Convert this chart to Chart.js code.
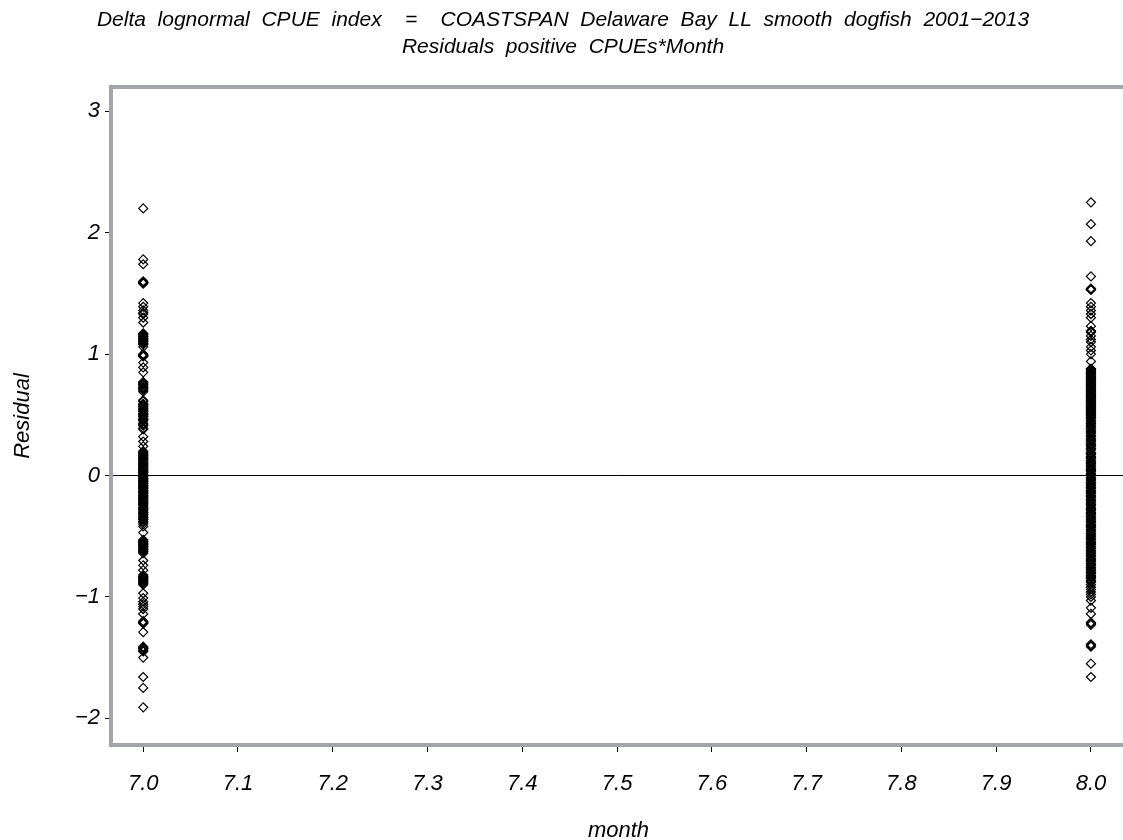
<!DOCTYPE html>
<html>
<head>
<meta charset="utf-8">
<script src="https://cdn.jsdelivr.net/npm/chart.js@4/dist/chart.umd.min.js"></script>
<style>
  html, body { margin: 0; padding: 0; background: #fff; overflow: hidden; }
  canvas { display: block; }
</style>
</head>
<body>
<canvas id="chart" width="1140" height="840"></canvas>
<script>
// months on the x axis
const months = [7, 8];

// residuals, one list per month
const month7Residuals = [
  2.20,
  1.78, 1.74,
  1.59, 1.59, 1.60, 1.58, 1.59,
  1.42, 1.39, 1.36, 1.34, 1.33, 1.30, 1.26,
  1.17, 1.16, 1.15, 1.14, 1.13, 1.12, 1.11, 1.10, 1.09, 1.08, 1.06,
  1.165, 1.145, 1.125, 1.105, 1.085,
  1.00, 0.99, 0.99, 0.98, 0.995, 0.985,
  0.93, 0.89, 0.85,
  0.77, 0.76, 0.75, 0.73, 0.72, 0.71, 0.69, 0.765, 0.745, 0.725, 0.705,
  0.62, 0.61, 0.59, 0.58, 0.57, 0.55, 0.54, 0.53, 0.51, 0.50, 0.49, 0.47, 0.46, 0.45,
  0.43, 0.42, 0.41, 0.39, 0.38,
  0.585, 0.565, 0.545, 0.525, 0.505, 0.485, 0.465,
  0.32, 0.28, 0.24,
  0.20, 0.19, 0.18, 0.17, 0.16, 0.15, 0.14, 0.13, 0.12, 0.11, 0.10, 0.09, 0.08, 0.07,
  0.06, 0.05, 0.04, 0.03, 0.02, 0.01,
  0.165, 0.145, 0.125, 0.105, 0.085, 0.065, 0.045, 0.025,
  -0.01, -0.02, -0.03, -0.04, -0.05, -0.06, -0.07, -0.08, -0.09, -0.10, -0.11, -0.12,
  -0.13, -0.14, -0.15, -0.16, -0.17, -0.18, -0.19, -0.20, -0.21, -0.22, -0.23, -0.24,
  -0.26, -0.27, -0.28, -0.30, -0.31, -0.32, -0.34, -0.35, -0.36, -0.38, -0.40, -0.42,
  -0.025, -0.045, -0.065, -0.085, -0.105, -0.125, -0.145, -0.165, -0.185, -0.205,
  -0.225, -0.245, -0.265, -0.285, -0.305, -0.325, -0.345, -0.365, -0.385,
  -0.47,
  -0.53, -0.54, -0.55, -0.56, -0.57, -0.58, -0.59, -0.60, -0.61, -0.62, -0.63, -0.64,
  -0.545, -0.565, -0.585, -0.605, -0.625,
  -0.70, -0.74, -0.78,
  -0.82, -0.83, -0.84, -0.85, -0.86, -0.87, -0.88, -0.89, -0.90,
  -0.835, -0.855, -0.875,
  -0.97, -1.01, -1.04, -1.06, -1.08, -1.10, -1.14,
  -1.20, -1.21, -1.21, -1.22, -1.215,
  -1.29,
  -1.41, -1.42, -1.42, -1.43, -1.44, -1.45, -1.425,
  -1.50,
  -1.66,
  -1.75,
  -1.91
];

const month8Residuals = [
  2.25, 2.07, 1.93,
  1.64,
  1.53, 1.53, 1.54, 1.535,
  1.42, 1.39, 1.36, 1.33, 1.30,
  1.23, 1.19, 1.19, 1.18, 1.15, 1.12, 1.10, 1.06, 1.03, 1.00,
  0.94,
  0.88, 0.87, 0.86, 0.85, 0.84, 0.83, 0.82, 0.81, 0.80, 0.79, 0.78, 0.77, 0.76, 0.75,
  0.74, 0.73, 0.72, 0.71, 0.70, 0.69, 0.68, 0.67, 0.66, 0.65, 0.64, 0.63, 0.62, 0.61,
  0.60, 0.59, 0.58, 0.57, 0.56, 0.55, 0.54, 0.53, 0.52, 0.51, 0.50, 0.49, 0.48, 0.47,
  0.45, 0.44, 0.43, 0.41, 0.40, 0.39, 0.37, 0.36, 0.35, 0.33, 0.32, 0.30, 0.29, 0.28,
  0.26, 0.25, 0.24, 0.22, 0.21, 0.19, 0.18, 0.17, 0.15, 0.14, 0.12, 0.11, 0.10, 0.08,
  0.07, 0.05, 0.04, 0.03, 0.01, 0.00,
  0.875, 0.855, 0.835, 0.815, 0.795, 0.775, 0.755, 0.735, 0.715, 0.695, 0.675, 0.655,
  0.635, 0.615, 0.595, 0.575, 0.555, 0.535, 0.515, 0.495, 0.475, 0.455, 0.425, 0.385,
  0.345, 0.305, 0.265, 0.225, 0.185, 0.155, 0.125, 0.095, 0.055, 0.015,
  -0.02, -0.03, -0.04, -0.06, -0.07, -0.08, -0.10, -0.11, -0.13, -0.14, -0.15, -0.17,
  -0.18, -0.20, -0.21, -0.22, -0.24, -0.25, -0.27, -0.28, -0.29, -0.31, -0.32, -0.34,
  -0.35, -0.36, -0.38, -0.39, -0.41, -0.42, -0.43, -0.45, -0.46, -0.48, -0.49, -0.50,
  -0.52, -0.53, -0.55, -0.56, -0.57, -0.59, -0.60, -0.62, -0.63, -0.64, -0.66, -0.67,
  -0.69, -0.70, -0.71, -0.73, -0.74, -0.76, -0.77, -0.78, -0.80, -0.81, -0.83, -0.84,
  -0.85, -0.87, -0.88, -0.90, -0.92, -0.94, -0.96, -0.98, -1.00, -1.03,
  -0.015, -0.055, -0.095, -0.125, -0.165, -0.195, -0.235, -0.265, -0.305, -0.335,
  -0.375, -0.405, -0.445, -0.475, -0.515, -0.545, -0.585, -0.615, -0.655, -0.685,
  -0.725, -0.755, -0.795, -0.825, -0.865,
  -1.09, -1.14,
  -1.21, -1.22, -1.23,
  -1.39, -1.40, -1.41,
  -1.55,
  -1.66
];

// tick labels
const xTicks = [7.0, 7.1, 7.2, 7.3, 7.4, 7.5, 7.6, 7.7, 7.8, 7.9, 8.0];
const yTicks = [-2, -1, 0, 1, 2, 3];

const titleLines = [
  'Delta  lognormal  CPUE  index    =    COASTSPAN  Delaware  Bay  LL  smooth  dogfish  2001\u22122013',
  'Residuals  positive  CPUEs*Month'
];

const points = [];
[month7Residuals, month8Residuals].forEach((list, i) => {
  list.forEach(r => points.push({ x: months[i], y: r }));
});

// grey box round the plot area
const framePlugin = {
  id: 'frame',
  afterDraw(chart) {
    const { ctx, chartArea: a } = chart;
    ctx.save();
    ctx.strokeStyle = '#a2a6aa';
    ctx.lineWidth = 4;
    ctx.strokeRect(a.left, a.top, a.right - a.left, a.bottom - a.top);
    ctx.restore();
  }
};

const tickFont = { family: '"Liberation Sans", Arial, sans-serif', size: 22, style: 'italic' };
const fmt = v => (v < 0 ? '\u2212' : '') + Math.abs(v);

new Chart(document.getElementById('chart'), {
  type: 'scatter',
  data: {
    datasets: [{
      data: points,
      pointStyle: 'rectRot',
      pointRadius: 4.5,
      pointHoverRadius: 4.5,
      borderWidth: 1.2,
      borderColor: '#000',
      backgroundColor: 'rgba(0,0,0,0)'
    }]
  },
  options: {
    responsive: false,
    animation: false,
    layout: { padding: { left: 0, right: 14, top: 0, bottom: 0 } },
    plugins: {
      legend: { display: false },
      tooltip: { enabled: false },
      title: {
        display: true,
        text: titleLines,
        color: '#000',
        font: { family: '"Liberation Sans", Arial, sans-serif', size: 21, style: 'italic', weight: 'normal', lineHeight: 1.286 },
        padding: { top: 7, bottom: 26 }
      }
    },
    scales: {
      x: {
        type: 'linear',
        min: 6.966,
        max: 8.037,
        afterBuildTicks: s => { s.ticks = xTicks.map(v => ({ value: v })); },
        afterFit: s => { s.height = 95; },
        border: { display: false },
        grid: { drawOnChartArea: false, tickLength: 7, tickColor: '#000', tickWidth: 1 },
        ticks: { color: '#000', font: tickFont, padding: 19, maxRotation: 0, autoSkip: false,
                 callback: v => v.toFixed(1) },
        title: { display: true, text: 'month', color: '#000', font: tickFont, padding: { top: 0, bottom: -4 } }
      },
      y: {
        type: 'linear',
        min: -2.22,
        max: 3.2,
        afterBuildTicks: s => { s.ticks = yTicks.map(v => ({ value: v })); },
        afterFit: s => { s.width = 111; },
        border: { display: false },
        grid: {
          color: c => (c.tick && c.tick.value === 0 ? '#000' : 'rgba(0,0,0,0)'),
          lineWidth: 1,
          tickLength: 6,
          tickColor: '#000',
          tickWidth: 1
        },
        ticks: { color: '#000', font: tickFont, padding: 5, autoSkip: false, callback: fmt },
        title: { display: true, text: 'Residual', color: '#000', font: tickFont, padding: { top: 10, bottom: 0 } }
      }
    }
  },
  plugins: [framePlugin]
});
</script>
</body>
</html>
